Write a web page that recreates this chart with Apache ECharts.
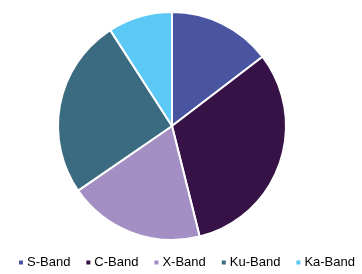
<!DOCTYPE html>
<html><head><meta charset="utf-8">
<script src="https://cdn.jsdelivr.net/npm/echarts@6/dist/echarts.min.js"></script>
<style>html,body{margin:0;padding:0;background:#fff}#c{width:362px;height:274px}</style>
</head><body><div id="c"></div>
<script>
const categories = ['S-Band','C-Band','X-Band','Ku-Band','Ka-Band'];
const values = [14.6, 31.5, 19.3, 25.5, 9.1];
const colors = ['#4a55a2','#361246','#a48fc4','#3b6b80','#5bc8f5'];
const chart = echarts.init(document.getElementById('c'), null, {renderer:'canvas'});
chart.setOption({
  animation: false,
  color: colors,
  legend: {
    top: 256, left: 17, right: 0, padding: 0,
    icon: 'rect', itemWidth: 6, itemHeight: 6, itemGap: 14,
    textStyle: {fontFamily: 'Liberation Sans, Arial', fontSize: 13, color: '#000', padding: [0,0,0,-2]},
    data: categories
  },
  series: [{
    type: 'pie',
    center: [172, 126],
    radius: [0, 114],
    startAngle: 90,
    clockwise: true,
    label: {show: false},
    labelLine: {show: false},
    itemStyle: {borderColor: '#fff', borderWidth: 2},
    emphasis: {disabled: true},
    data: categories.map((n,i)=>({name:n, value:values[i]}))
  }]
});
</script></body></html>
